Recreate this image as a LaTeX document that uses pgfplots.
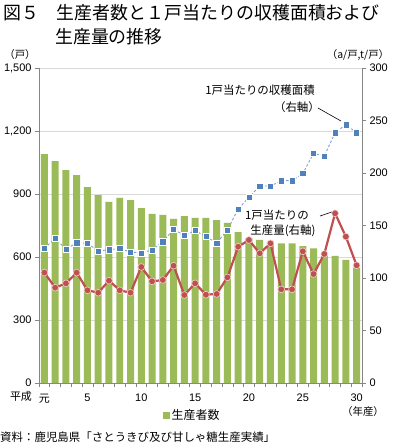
\documentclass[border=0pt]{standalone}
\usepackage{fontspec}
\setmainfont{Liberation Sans}
\newfontfamily\jp{Noto Sans CJK JP}
\usepackage{pgfplots}
\pgfplotsset{compat=1.18}
\definecolor{barg}{HTML}{9BBB59}
\definecolor{blu}{HTML}{4F81BD}
\definecolor{bluline}{HTML}{7F9FD0}
\definecolor{redl}{HTML}{C0504D}
\definecolor{gridc}{HTML}{D9D9D9}
\definecolor{axc}{HTML}{868686}
\begin{document}
\begin{tikzpicture}
\path[use as bounding box] (-39bp,-62bp) rectangle (354bp,383bp);
\begin{axis}[
  at={(0bp,0bp)}, anchor=south west,
  width=323bp, height=315bp, scale only axis,
  xmin=0.5, xmax=30.5, ymin=0, ymax=1500,
  axis y line*=left, axis x line*=bottom,
  axis line style={axc, line width=0.8pt},
  ytick={0,300,...,1500},
  ymajorgrids, grid style={gridc, line width=0.8pt},
  /pgf/number format/assume math mode=true,
  yticklabel style={/pgf/number format/1000 sep={,}, font=\fontsize{11}{12}\selectfont},
  xticklabel style={font=\fontsize{11}{12}\selectfont, yshift=-3.5bp},
  xtick={1,5,10,15,20,25,30},
  xticklabels={{\jp 元},5,10,15,20,25,30},
  minor xtick={0.5,1.5,...,30.5},
  major x tick style={draw=none},
  minor x tick style={axc, line width=0.6pt},
  y tick style={axc, line width=0.6pt},
  tick align=outside, major tick length=4bp, minor tick length=4bp,
  ybar, bar width=0.65,
  legend style={at={(axis description cs:0.474,-0.1016)}, anchor=center, draw=none, fill=none,
    font=\jp\fontsize{12}{13}\selectfont, inner sep=0pt},
  legend image code/.code={\fill[barg] (0bp,-3.5bp) rectangle (7bp,3.5bp);},
]
\addplot[fill=barg, draw=none] coordinates {
(1,1090)(2,1057)(3,1014)(4,990)(5,933)(6,895)(7,862)(8,881)(9,871)(10,833)
(11,805)(12,800)(13,781)(14,795)(15,786)(16,786)(17,776)(18,762)(19,719)(20,690)
(21,681)(22,673)(23,665)(24,665)(25,652)(26,641)(27,605)(28,605)(29,586)(30,549)};
\addlegendentry{生産者数}
\end{axis}
\begin{axis}[
  at={(0bp,0bp)}, anchor=south west,
  width=323bp, height=315bp, scale only axis,
  xmin=0.5, xmax=30.5, ymin=0, ymax=300,
  axis x line=none, axis y line*=right,
  axis line style={axc, line width=0.8pt},
  ytick={0,50,...,300},
  y tick style={axc, line width=0.6pt},
  tick align=outside, major tick length=4bp,
  /pgf/number format/assume math mode=true,
  yticklabel style={font=\fontsize{11}{12}\selectfont},
  clip=false,
]
\addplot[bluline, dashed, dash pattern=on 2.5pt off 2pt, line width=0.9pt, mark=square*, mark size=3.1bp,
  mark options={solid, fill=blu, draw=white, line width=0.5pt}] coordinates {
(1,128.2)(2,137.8)(3,127.3)(4,133.6)(5,133.0)(6,125.7)(7,127.0)(8,128.0)(9,124.8)(10,123.8)
(11,126.7)(12,134.6)(13,146.3)(14,140.6)(15,145.1)(16,139.6)(17,133.2)(18,145.7)(19,165.7)(20,176.8)
(21,187.6)(22,187.6)(23,192.7)(24,192.7)(25,199.4)(26,218.7)(27,216.2)(28,238.4)(29,246.0)(30,238.4)};
\addplot[redl, line width=2.2pt, mark=*, mark size=3.4bp,
  mark options={fill=redl, draw=white!75!redl, line width=0.6pt}] coordinates {
(1,105.1)(2,90.8)(3,94.9)(4,105.1)(5,88.3)(6,86.0)(7,97.5)(8,88.3)(9,86.0)(10,110.5)
(11,96.8)(12,98.1)(13,111.7)(14,83.8)(15,94.9)(16,84.1)(17,84.8)(18,100.6)(19,129.8)(20,136.2)
(21,123.5)(22,133.0)(23,89.2)(24,89.2)(25,125.4)(26,103.8)(27,122.9)(28,161.6)(29,139.4)(30,112.1)};
\node[font=\jp\fontsize{11.5}{12}\selectfont] at (axis cs:21.03,279) {1戸当たりの収穫面積};
\node[font=\jp\fontsize{11.5}{12}\selectfont] at (axis cs:24.46,262.9) {（右軸）};
\draw[black, line width=0.6pt] (axis cs:26.41,261.9) -- (axis cs:28.55,249.5);
\node[font=\jp\fontsize{11.5}{12}\selectfont] at (axis cs:22.6,160) {1戸当たりの};
\node[font=\jp\fontsize{11.5}{12}\selectfont] at (axis cs:23.16,144.8) {生産量(右軸)};
\draw[black, line width=0.6pt] (axis cs:26.6,159) -- (axis cs:27.7,162.9);
\end{axis}
\node[anchor=west, font=\jp\fontsize{18}{20}\selectfont, inner sep=0pt] at (-36bp,370bp) {図５　生産者数と１戸当たりの収穫面積および};
\node[anchor=west, font=\jp\fontsize{18}{20}\selectfont, inner sep=0pt] at (16bp,346bp) {生産量の推移};
\node[font=\jp\fontsize{10.5}{12}\selectfont, inner sep=0pt] at (-19bp,328bp) {（戸）};
\node[font=\jp\fontsize{10.5}{12}\selectfont, inner sep=0pt] at (319bp,328bp) {（a/戸,t/戸）};
\node[font=\jp\fontsize{11}{12}\selectfont, inner sep=0pt] at (-18bp,-13bp) {平成};
\node[font=\jp\fontsize{10.5}{12}\selectfont, inner sep=0pt] at (324bp,-29bp) {（年産）};
\node[anchor=west, font=\jp\fontsize{11.5}{12}\selectfont, inner sep=0pt] at (-39bp,-54bp) {資料：鹿児島県「さとうきび及び甘しゃ糖生産実績」};
\end{tikzpicture}
\end{document}
